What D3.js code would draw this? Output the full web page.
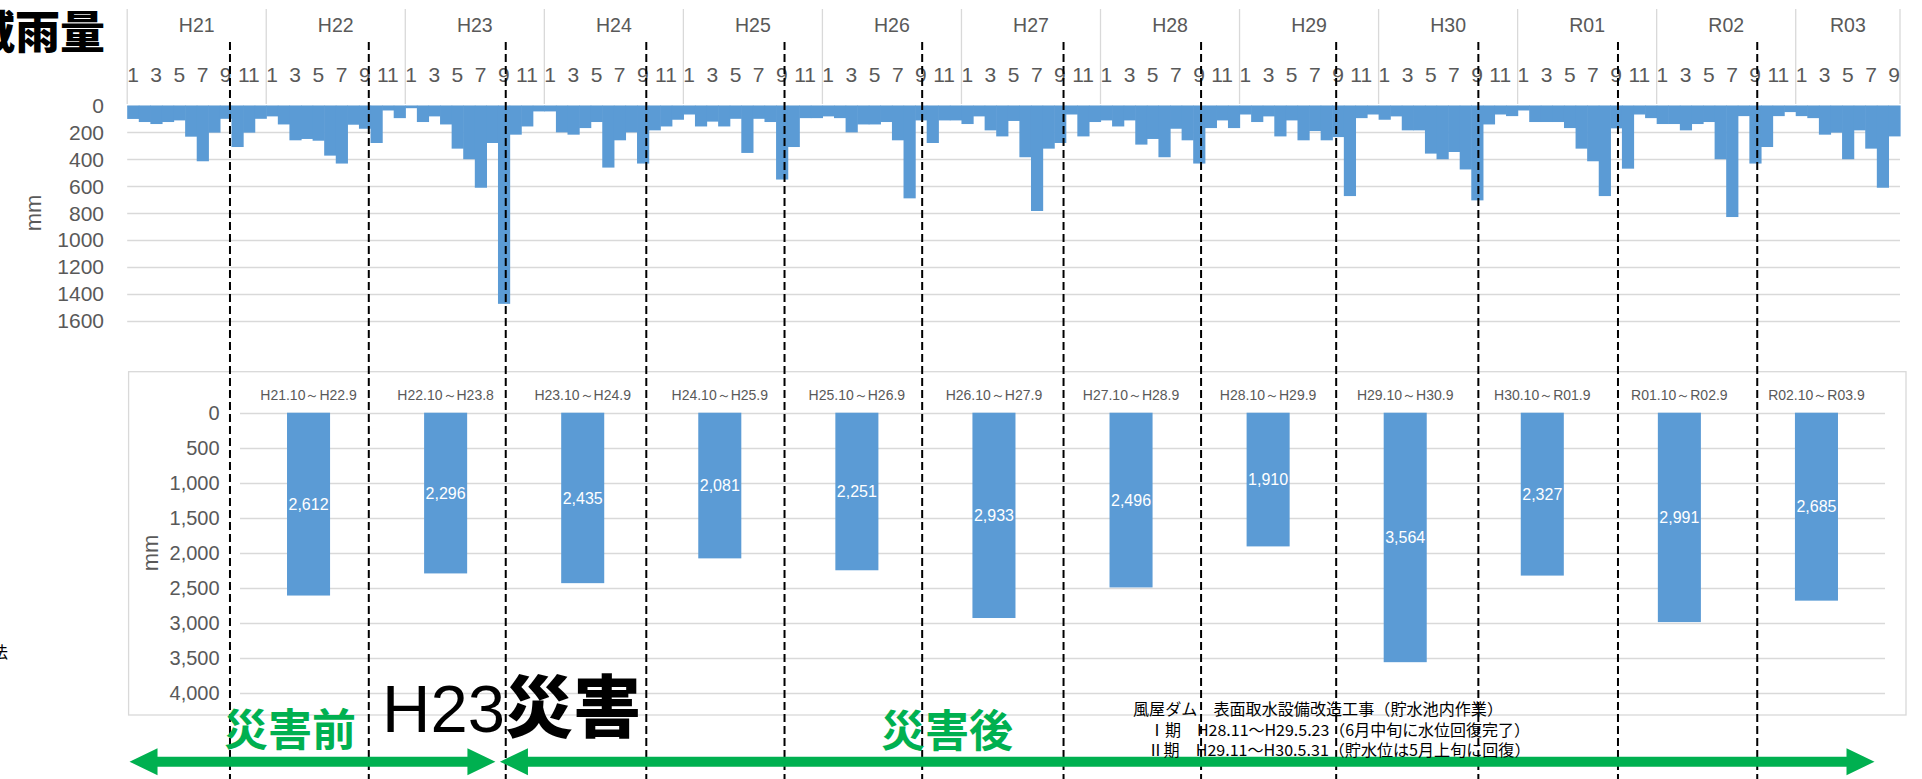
<!DOCTYPE html>
<html><head><meta charset="utf-8">
<script src="https://cdn.jsdelivr.net/npm/d3@7"></script>
<style>
html,body{margin:0;padding:0;background:#fff;overflow:hidden}
svg{display:block}
</style></head>
<body>
<svg id="chart" width="1922" height="779"></svg>
<script>
// ---------------- data ----------------
const years = ["H21","H22","H23","H24","H25","H26","H27","H28","H29","H30","R01","R02","R03"];
const monthLabels = ["1","","3","","5","","7","","9","","11",""];
// monthly rainfall (mm), Jan H21 .. Sep R03
const rainH21 = [100,123,138,123,111,232,415,202,99,309,202,99];
const rainH22 = [81,141,259,249,262,373,432,143,173,279,37,94];
const rainH23 = [20,123,81,141,321,400,612,279,1476,217,156,44];
const rainH24 = [44,200,217,168,123,462,259,200,432,185,156,106];
const rainH25 = [67,156,120,156,99,353,99,123,551,309,94,94];
const rainH26 = [81,94,200,141,141,123,259,691,111,279,111,111];
const rainH27 = [138,81,185,230,115,385,785,321,279,67,230,123];
const rainH28 = [111,156,111,291,249,385,173,259,432,168,111,168];
const rainH29 = [67,123,81,230,111,259,190,259,235,674,94,67];
const rainH30 = [106,81,185,185,358,400,346,476,706,141,67,79];
const rainR01 = [37,123,123,123,168,321,415,674,170,470,67,94];
const rainR02 = [138,138,185,138,123,400,830,79,432,309,79,49];
const rainR03 = [79,94,217,202,400,185,321,612,230];
const monthlyRain = [].concat(rainH21,rainH22,rainH23,rainH24,rainH25,rainH26,rainH27,
  rainH28,rainH29,rainH30,rainR01,rainR02,rainR03);

const periods = ["H21.10～H22.9","H22.10～H23.8","H23.10～H24.9","H24.10～H25.9","H25.10～H26.9",
  "H26.10～H27.9","H27.10～H28.9","H28.10～H29.9","H29.10～H30.9","H30.10～R01.9","R01.10～R02.9","R02.10～R03.9"];
const periodRain = [2612,2296,2435,2081,2251,2933,2496,1910,3564,2327,2991,2685];

const topTicks = [0,200,400,600,800,1000,1200,1400,1600];
const bottomTicks = [0,500,1000,1500,2000,2500,3000,3500,4000];
// period boundaries (in months from Jan H21) marked with dashed lines
const dividerMonths = [8.87,20.85,32.67,44.8,56.73,68.61,80.81,92.68,104.34,116.61,128.66,140.68];
// arrows (in months): before / after disaster
const arrowBefore = [0.2,31.78];
const arrowAfter = [32.17,150.8];
const noteLines = ["風屋ダム　表面取水設備改造工事（貯水池内作業）",
  "Ⅰ期　H28.11～H29.5.23（6月中旬に水位回復完了）",
  "Ⅱ期　H29.11～H30.5.31（貯水位は5月上旬に回復）"];

// ---------------- drawing ----------------
const svg = d3.select("#chart");
const BLUE = "#5B9BD5", GRID = "#D9D9D9", TXT = "#595959", GREEN = "#00B050";
const LAT = "'Liberation Sans', Arial, sans-serif";
const JP = "'Noto Sans CJK JP', 'Noto Sans CJK SC', sans-serif";

// ===== top chart =====
const xm = d3.scaleBand().domain(d3.range(monthlyRain.length)).range([127.2, 1900]).padding(0);
const yt = d3.scaleLinear().domain([0,1600]).range([105.5, 320.5]);
const mX = f => xm.range()[0] + f * xm.step();

const gTop = svg.append("g");
gTop.selectAll("line.grid").data(topTicks).join("line")
  .attr("x1", 127.2).attr("x2", 1900)
  .attr("y1", d => Math.round(yt(d))+0.5).attr("y2", d => Math.round(yt(d))+0.5)
  .attr("stroke", GRID).attr("stroke-width", 1.3);

gTop.selectAll("text.ylab").data(topTicks).join("text")
  .attr("x", 104).attr("y", d => yt(d)).attr("dy", "0.36em")
  .attr("text-anchor", "end").attr("font-family", LAT).attr("font-size", 21).attr("fill", TXT)
  .text(d => d);

gTop.append("text").attr("transform", "translate(33,213) rotate(-90)")
  .attr("text-anchor", "middle").attr("dy", "0.35em").attr("font-family", LAT)
  .attr("font-size", 22).attr("fill", TXT).text("mm");

// year separators on category axis
const yearStarts = years.map((y,i) => i*12);
gTop.selectAll("line.ysep").data(yearStarts.concat([monthlyRain.length])).join("line")
  .attr("x1", d => mX(d)).attr("x2", d => mX(d)).attr("y1", 9).attr("y2", 104)
  .attr("stroke", GRID).attr("stroke-width", 1.3);

gTop.selectAll("text.year").data(years).join("text")
  .attr("x", (d,i) => { const s = i*12, e = Math.min(s+12, monthlyRain.length); return (mX(s)+mX(e))/2; })
  .attr("y", 32).attr("text-anchor", "middle").attr("font-family", LAT)
  .attr("font-size", 19.5).attr("fill", TXT).text(d => d);

gTop.selectAll("text.month").data(d3.range(monthlyRain.length).filter(i => monthLabels[i%12] !== "")).join("text")
  .attr("x", i => xm(i) + xm.bandwidth()/2).attr("y", 81.5).attr("text-anchor", "middle")
  .attr("font-family", LAT).attr("font-size", 21).attr("fill", TXT)
  .text(i => monthLabels[i%12]);

gTop.selectAll("rect.bar").data(monthlyRain).join("rect")
  .attr("x", (d,i) => xm(i)).attr("width", xm.bandwidth()+0.6)
  .attr("y", yt(0)).attr("height", d => yt(d)-yt(0)).attr("fill", BLUE);

// title (partially cut at left edge)
svg.append("text").attr("x", 105).attr("y", 32.5).attr("dy", "0.36em").attr("text-anchor", "end")
  .attr("font-family", JP).attr("font-weight", 900).attr("font-size", 45).attr("fill", "#000")
  .text("流域雨量");

// ===== bottom chart =====
const gB = svg.append("g");
gB.append("rect").attr("x", 128.6).attr("y", 371.7).attr("width", 1906-128.6).attr("height", 715-371.7)
  .attr("fill", "none").attr("stroke", GRID).attr("stroke-width", 1.3);

const xb = d3.scaleBand().domain(periods).range([240, 1885]).paddingInner(0.686).paddingOuter(0.343);
const yb = d3.scaleLinear().domain([0,4000]).range([412.7, 692.7]);
const fmt = d3.format(",");

gB.selectAll("line.grid").data(bottomTicks).join("line")
  .attr("x1", 240).attr("x2", 1885)
  .attr("y1", d => Math.round(yb(d))+0.5).attr("y2", d => Math.round(yb(d))+0.5)
  .attr("stroke", GRID).attr("stroke-width", 1.3);

gB.selectAll("text.ylab").data(bottomTicks).join("text")
  .attr("x", 219.6).attr("y", d => yb(d)).attr("dy", "0.36em").attr("text-anchor", "end")
  .attr("font-family", LAT).attr("font-size", 20).attr("fill", TXT).text(d => fmt(d));

gB.append("text").attr("transform", "translate(150,553) rotate(-90)")
  .attr("text-anchor", "middle").attr("dy", "0.35em").attr("font-family", LAT)
  .attr("font-size", 22).attr("fill", TXT).text("mm");

gB.selectAll("text.cat").data(periods).join("text")
  .attr("x", d => xb(d) + xb.bandwidth()/2).attr("y", 399.5).attr("text-anchor", "middle")
  .attr("font-family", LAT).attr("font-size", 14).attr("fill", TXT).text(d => d);

gB.selectAll("rect.bar").data(periodRain).join("rect")
  .attr("x", (d,i) => xb(periods[i])).attr("width", xb.bandwidth())
  .attr("y", yb(0)).attr("height", d => yb(d)-yb(0)).attr("fill", BLUE);

gB.selectAll("text.val").data(periodRain).join("text")
  .attr("x", (d,i) => xb(periods[i]) + xb.bandwidth()/2).attr("y", d => (yb(0)+yb(d))/2)
  .attr("dy", "0.36em").attr("text-anchor", "middle").attr("font-family", LAT)
  .attr("font-size", 16).attr("fill", "#fff").text(d => fmt(d));

// ===== annotations =====
const gA = svg.append("g");
gA.selectAll("line.div").data(dividerMonths).join("line")
  .attr("x1", d => mX(d)).attr("x2", d => mX(d)).attr("y1", 42).attr("y2", 779)
  .attr("stroke", "#000").attr("stroke-width", 2).attr("stroke-dasharray", "8,4");

function arrowPath(x1, x2, y) {
  const L = 28, H = 13.5, s = 5;
  return `M${x1},${y} L${x1+L},${y-H} L${x1+L},${y-s} L${x2-L},${y-s} L${x2-L},${y-H} L${x2},${y} ` +
         `L${x2-L},${y+H} L${x2-L},${y+s} L${x1+L},${y+s} L${x1+L},${y+H} Z`;
}
gA.selectAll("path.arrow").data([arrowBefore, arrowAfter]).join("path")
  .attr("d", d => arrowPath(mX(d[0]), mX(d[1]), 761.7)).attr("fill", GREEN);

gA.append("text").attr("x", 290).attr("y", 730).attr("dy", "0.36em").attr("text-anchor", "middle")
  .attr("font-family", JP).attr("font-weight", 700).attr("font-size", 44).attr("fill", GREEN).text("災害前");
gA.append("text").attr("x", 947).attr("y", 731).attr("dy", "0.36em").attr("text-anchor", "middle")
  .attr("font-family", JP).attr("font-weight", 700).attr("font-size", 44).attr("fill", GREEN).text("災害後");

gA.append("text").attr("x", 382).attr("y", 731.7).attr("font-family", LAT)
  .attr("font-size", 67).attr("fill", "#000").text("H23");
gA.append("text").attr("x", 505).attr("y", 708).attr("dy", "0.36em").attr("font-family", JP)
  .attr("font-weight", 900).attr("font-size", 68).attr("fill", "#000").text("災害");

const noteX = [1133, 1149, 1147.5], noteY = [709, 730, 750.5], noteW = [370, 381, 383];
gA.selectAll("text.note").data(noteLines).join("text")
  .attr("x", (d,i) => noteX[i]).attr("y", (d,i) => noteY[i]).attr("dy", "0.36em")
  .attr("font-family", JP).attr("font-size", 15.5).attr("fill", "#000")
  .attr("textLength", (d,i) => noteW[i]).attr("lengthAdjust", "spacingAndGlyphs")
  .text(d => d);

gA.append("text").attr("x", 8).attr("y", 652).attr("dy", "0.36em").attr("text-anchor", "end")
  .attr("font-family", JP).attr("font-size", 16).attr("fill", "#000").text("法");
</script>
</body></html>
